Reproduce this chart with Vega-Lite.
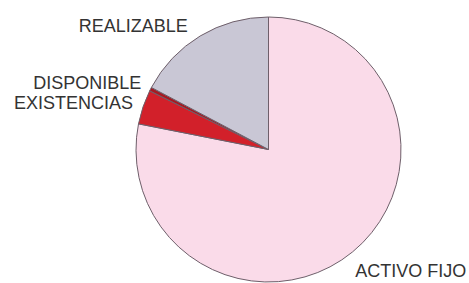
{
  "$schema": "https://vega.github.io/schema/vega-lite/v6.json",
  "autosize": "none",
  "width": 400,
  "height": 267,
  "padding": {"left": 68.5, "top": 16, "right": 0, "bottom": 0},
  "background": "#ffffff",
  "config": {"view": {"stroke": null}},
  "data": {
    "values": [
      {"partida": "ACTIVO FIJO", "valor": 78.1, "orden": 1},
      {"partida": "EXISTENCIAS", "valor": 4.2, "orden": 2},
      {"partida": "DISPONIBLE", "valor": 0.45, "orden": 3},
      {"partida": "REALIZABLE", "valor": 17.25, "orden": 4}
    ]
  },
  "encoding": {
    "theta": {"field": "valor", "type": "quantitative", "stack": true},
    "order": {"field": "orden", "type": "ordinal"}
  },
  "layer": [
    {
      "mark": {"type": "arc", "outerRadius": 132.5, "stroke": "#6e5f6a", "strokeWidth": 1},
      "encoding": {
        "color": {
          "field": "partida",
          "type": "nominal",
          "scale": {
            "domain": ["ACTIVO FIJO", "EXISTENCIAS", "DISPONIBLE", "REALIZABLE"],
            "range": ["#fadbe9", "#d2202a", "#a81a22", "#c9c7d5"]
          },
          "legend": null
        }
      }
    },
    {
      "mark": {"type": "text", "radius": 143, "align": "right", "baseline": "middle", "font": "Liberation Sans", "fontSize": 18, "fill": "#333333"},
      "encoding": {
        "text": {
          "condition": {"test": "datum.partida === 'EXISTENCIAS' || datum.partida === 'DISPONIBLE'", "field": "partida"},
          "value": ""
        }
      }
    },
    {
      "mark": {"type": "text", "radius": 143, "align": "right", "baseline": "middle", "dx": -7, "font": "Liberation Sans", "fontSize": 18, "fill": "#333333"},
      "encoding": {
        "text": {
          "condition": {"test": "datum.partida === 'REALIZABLE'", "field": "partida"},
          "value": ""
        }
      }
    },
    {
      "mark": {"type": "text", "radius": 143, "align": "left", "baseline": "middle", "dx": -4, "dy": 12, "font": "Liberation Sans", "fontSize": 18, "fill": "#333333"},
      "encoding": {
        "text": {
          "condition": {"test": "datum.partida === 'ACTIVO FIJO'", "field": "partida"},
          "value": ""
        }
      }
    }
  ]
}
